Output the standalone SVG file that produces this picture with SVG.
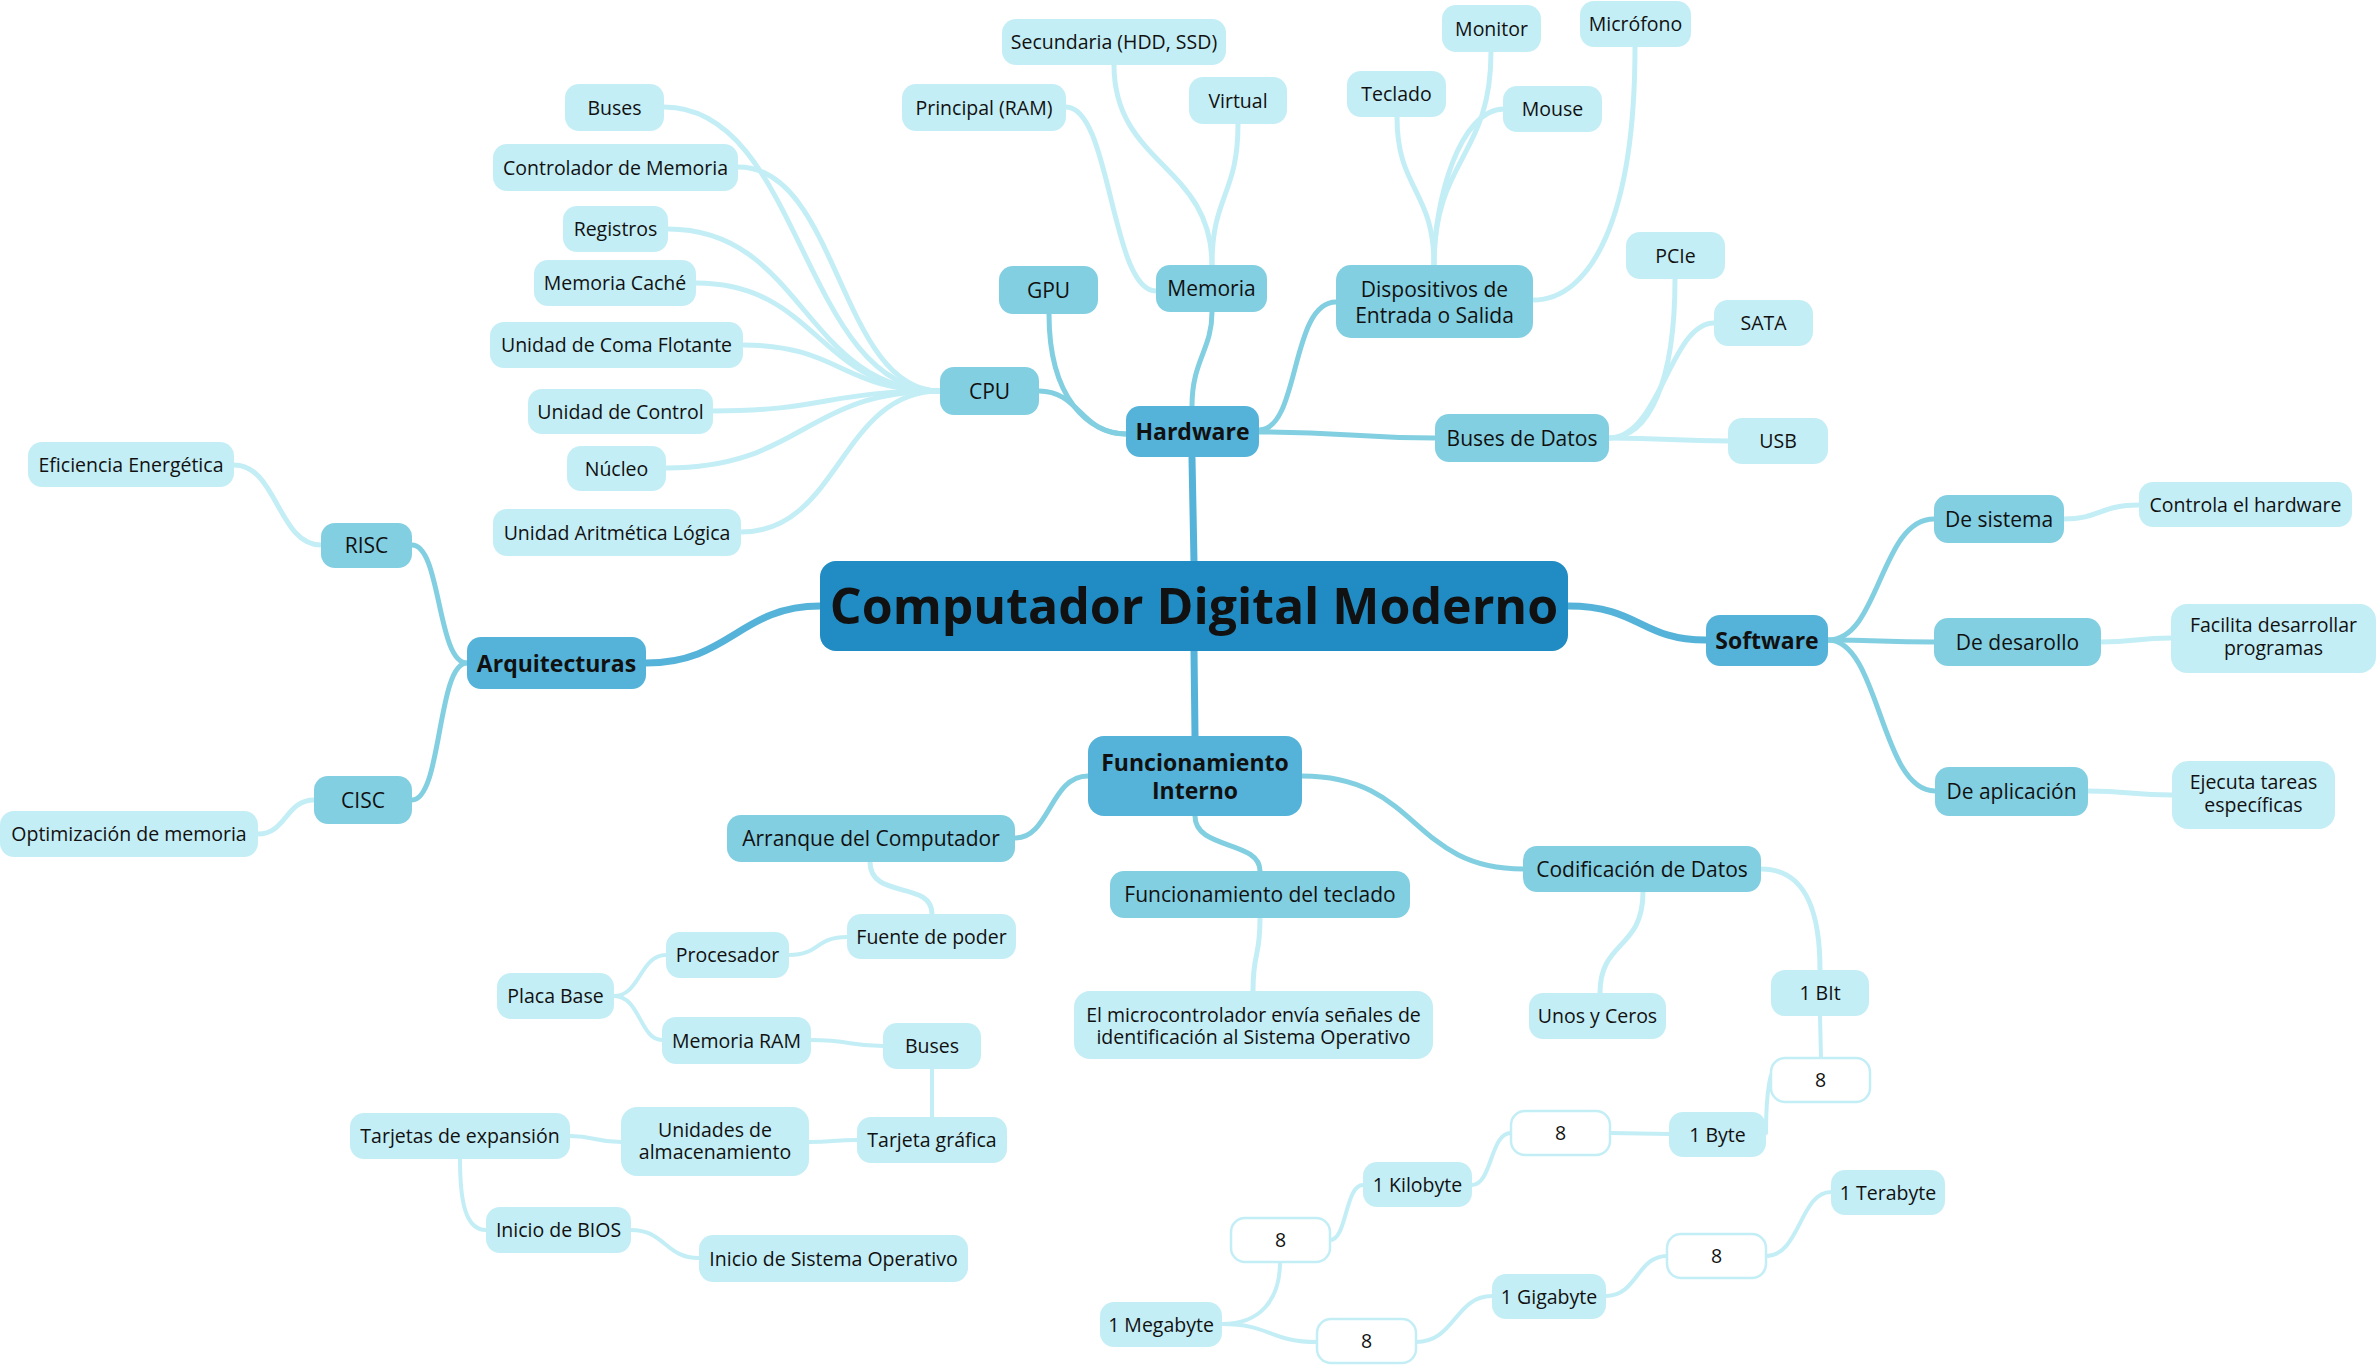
<svg xmlns="http://www.w3.org/2000/svg" width="2376" height="1365" viewBox="0 0 2376 1365">
<style>
.bg{fill:#ffffff}
text{font-family:"Open Sans","Noto Sans","Liberation Sans",sans-serif;fill:#111111;text-anchor:middle}
.r0{fill:#218bc3}
.r1{fill:#55b3d9}
.r2{fill:#82cfe1}
.r3{fill:#c4eef6}
.rw{fill:#ffffff;stroke:#c4eef6;stroke-width:2.5}
.t0{font-size:50px;font-weight:700}
.t1{font-size:23px;font-weight:700}
.t2{font-size:21px}
.t3{font-size:19.5px}
.c0{fill:none;stroke:#55b3d9;stroke-width:7;stroke-linecap:round}
.c1{fill:none;stroke:#82cfe1;stroke-width:5;stroke-linecap:round}
.c2{fill:none;stroke:#c4eef6;stroke-width:5;stroke-linecap:round}
.c3{fill:none;stroke:#c4eef6;stroke-width:4;stroke-linecap:round}
</style>
<rect class="bg" x="0" y="0" width="2376" height="1365"/>
<g id="connectors">
<path class="c0" d="M1194,562 L1192,458"/>
<path class="c0" d="M1194,651 L1195,736"/>
<path class="c0" d="M820,606 C740,606 730,663 646,663"/>
<path class="c0" d="M1568,606 C1640,606 1640,640 1706,640"/>
<path class="c1" d="M1126,434 C1080,434 1080,391 1039,391"/>
<path class="c1" d="M1049,314 C1049,400 1090,434 1126,434"/>
<path class="c1" d="M1192,406 C1192,360 1212,350 1212,312"/>
<path class="c1" d="M1259,430 C1300,430 1290,302 1336,302"/>
<path class="c1" d="M1259,432 C1350,432 1350,438 1435,438"/>
<path class="c2" d="M664,107 C802,107 802,391 940,391"/>
<path class="c2" d="M738,167 C839,167 839,391 940,391"/>
<path class="c2" d="M668,229 C804,229 804,391 940,391"/>
<path class="c2" d="M696,283 C818,283 818,391 940,391"/>
<path class="c2" d="M743,345 C841,345 841,391 940,391"/>
<path class="c2" d="M713,411 C826,411 826,391 940,391"/>
<path class="c2" d="M666,468 C803,468 803,391 940,391"/>
<path class="c2" d="M741,532 C840,532 840,391 940,391"/>
<path class="c2" d="M1114,65 C1114,165 1212,165 1212,265"/>
<path class="c2" d="M1238,124 C1238,195 1212,195 1212,265"/>
<path class="c2" d="M1066,107 C1111,107 1111,291 1156,291"/>
<path class="c2" d="M1397,117 C1397,190 1434,190 1434,265"/>
<path class="c2" d="M1491,52 C1491,158 1434,158 1434,265"/>
<path class="c2" d="M1504,109 C1460,109 1434,200 1434,265"/>
<path class="c2" d="M1635,47 C1635,220 1590,300 1533,300"/>
<path class="c2" d="M1675,279 C1675,380 1650,438 1609,438"/>
<path class="c2" d="M1714,323 C1670,323 1660,438 1609,438"/>
<path class="c2" d="M1728,441 C1670,441 1670,438 1609,438"/>
<path class="c1" d="M1828,640 C1880,640 1880,519 1934,519"/>
<path class="c1" d="M1828,640 C1880,640 1880,642 1934,642"/>
<path class="c1" d="M1828,640 C1880,640 1880,791 1935,791"/>
<path class="c2" d="M2064,519 C2100,519 2100,505 2139,505"/>
<path class="c2" d="M2101,642 C2136,642 2136,638 2171,638"/>
<path class="c2" d="M2088,791 C2130,791 2130,795 2172,795"/>
<path class="c1" d="M467,663 C437,663 441,545 412,545"/>
<path class="c1" d="M467,663 C437,663 442,800 412,800"/>
<path class="c2" d="M321,545 C278,545 277,465 234,465"/>
<path class="c2" d="M314,800 C286,800 286,834 258,834"/>
<path class="c1" d="M1088,776 C1050,776 1050,838 1015,838"/>
<path class="c1" d="M1195,816 C1195,850 1260,840 1260,871"/>
<path class="c1" d="M1302,776 C1420,776 1410,869 1523,869"/>
<path class="c2" d="M1260,918 C1260,960 1253,950 1253,991"/>
<path class="c2" d="M870,862 C870,900 932,880 932,914"/>
<path class="c3" d="M847,937 C815,937 820,955 789,955"/>
<path class="c3" d="M614,996 C640,996 640,955 666,955"/>
<path class="c3" d="M614,996 C640,996 640,1040 662,1040"/>
<path class="c3" d="M811,1040 C850,1040 850,1046 883,1046"/>
<path class="c3" d="M932,1069 L932,1117"/>
<path class="c3" d="M857,1140 C833,1140 833,1142 809,1142"/>
<path class="c3" d="M621,1142 C595,1142 595,1136 570,1136"/>
<path class="c3" d="M460,1159 C460,1200 465,1230 486,1230"/>
<path class="c3" d="M631,1230 C665,1230 665,1258 699,1258"/>
<path class="c2" d="M1643,892 C1643,950 1600,940 1600,993"/>
<path class="c2" d="M1761,869 C1810,869 1820,920 1820,970"/>
<path class="c3" d="M1820,1016 L1821,1058"/>
<path class="c3" d="M1771,1075 C1767,1090 1766,1110 1766,1133"/>
<path class="c3" d="M1669,1134 C1640,1134 1640,1133 1610,1133"/>
<path class="c3" d="M1511,1133 C1490,1133 1492,1185 1472,1185"/>
<path class="c3" d="M1363,1185 C1345,1185 1347,1240 1330,1240"/>
<path class="c3" d="M1280,1262 C1280,1300 1260,1324 1222,1324"/>
<path class="c3" d="M1222,1324 C1270,1324 1270,1342 1317,1342"/>
<path class="c3" d="M1416,1342 C1455,1342 1455,1296 1492,1296"/>
<path class="c3" d="M1606,1296 C1637,1296 1637,1256 1667,1256"/>
<path class="c3" d="M1766,1256 C1800,1256 1800,1192 1831,1192"/>
</g>
<g id="n-root"><rect class="r0" x="820" y="561" width="748" height="90" rx="16"/><text class="t0" x="1194" y="624">Computador Digital Moderno</text></g>
<g id="n-hardware"><rect class="r1" x="1126" y="406" width="133" height="51" rx="14"/><text class="t1" x="1192.5" y="440">Hardware</text></g>
<g id="n-software"><rect class="r1" x="1706" y="615" width="122" height="51" rx="14"/><text class="t1" x="1767" y="649">Software</text></g>
<g id="n-arquitecturas"><rect class="r1" x="467" y="637" width="179" height="52" rx="14"/><text class="t1" x="556.5" y="671.5">Arquitecturas</text></g>
<g id="n-funcionamiento"><rect class="r1" x="1088" y="736" width="214" height="80" rx="16"/><text class="t1" x="1195" y="771">Funcionamiento<tspan x="1195" dy="28">Interno</tspan></text></g>
<g id="n-cpu"><rect class="r2" x="940" y="367" width="99" height="48" rx="14"/><text class="t2" x="989.5" y="398.5">CPU</text></g>
<g id="n-gpu"><rect class="r2" x="999" y="266" width="99" height="48" rx="14"/><text class="t2" x="1048.5" y="297.5">GPU</text></g>
<g id="n-memoria"><rect class="r2" x="1156" y="265" width="111" height="47" rx="14"/><text class="t2" x="1211.5" y="296">Memoria</text></g>
<g id="n-dispositivos"><rect class="r2" x="1336" y="265" width="197" height="73" rx="15"/><text class="t2" x="1434.5" y="297">Dispositivos de<tspan x="1434.5" dy="25.5">Entrada o Salida</tspan></text></g>
<g id="n-busesdatos"><rect class="r2" x="1435" y="414" width="174" height="48" rx="14"/><text class="t2" x="1522" y="445.5">Buses de Datos</text></g>
<g id="n-risc"><rect class="r2" x="321" y="523" width="91" height="45" rx="14"/><text class="t2" x="366.5" y="553">RISC</text></g>
<g id="n-cisc"><rect class="r2" x="314" y="776" width="98" height="48" rx="14"/><text class="t2" x="363" y="807.5">CISC</text></g>
<g id="n-desistema"><rect class="r2" x="1934" y="495" width="130" height="48" rx="14"/><text class="t2" x="1999" y="526.5">De sistema</text></g>
<g id="n-dedesarollo"><rect class="r2" x="1934" y="618" width="167" height="48" rx="14"/><text class="t2" x="2017.5" y="649.5">De desarollo</text></g>
<g id="n-deaplicacion"><rect class="r2" x="1935" y="767" width="153" height="49" rx="14"/><text class="t2" x="2011.5" y="799">De aplicación</text></g>
<g id="n-arranque"><rect class="r2" x="727" y="815" width="288" height="47" rx="14"/><text class="t2" x="871" y="846">Arranque del Computador</text></g>
<g id="n-teclado-func"><rect class="r2" x="1110" y="871" width="300" height="47" rx="14"/><text class="t2" x="1260" y="902">Funcionamiento del teclado</text></g>
<g id="n-codificacion"><rect class="r2" x="1523" y="846" width="238" height="46" rx="14"/><text class="t2" x="1642" y="876.5">Codificación de Datos</text></g>
<g id="n-buses"><rect class="r3" x="565" y="84" width="99" height="47" rx="14"/><text class="t3" x="614.5" y="114.5">Buses</text></g>
<g id="n-controlador"><rect class="r3" x="493" y="144" width="245" height="47" rx="14"/><text class="t3" x="615.5" y="174.5">Controlador de Memoria</text></g>
<g id="n-registros"><rect class="r3" x="563" y="206" width="105" height="46" rx="14"/><text class="t3" x="615.5" y="236">Registros</text></g>
<g id="n-cache"><rect class="r3" x="534" y="260" width="162" height="46" rx="14"/><text class="t3" x="615" y="290">Memoria Caché</text></g>
<g id="n-coma"><rect class="r3" x="490" y="322" width="253" height="46" rx="14"/><text class="t3" x="616.5" y="352">Unidad de Coma Flotante</text></g>
<g id="n-control"><rect class="r3" x="528" y="389" width="185" height="45" rx="14"/><text class="t3" x="620.5" y="418.5">Unidad de Control</text></g>
<g id="n-nucleo"><rect class="r3" x="567" y="446" width="99" height="45" rx="14"/><text class="t3" x="616.5" y="475.5">Núcleo</text></g>
<g id="n-alu"><rect class="r3" x="493" y="509" width="248" height="47" rx="14"/><text class="t3" x="617" y="539.5">Unidad Aritmética Lógica</text></g>
<g id="n-eficiencia"><rect class="r3" x="28" y="442" width="206" height="45" rx="14"/><text class="t3" x="131" y="471.5">Eficiencia Energética</text></g>
<g id="n-optimizacion"><rect class="r3" x="0" y="811" width="258" height="46" rx="14"/><text class="t3" x="129" y="841">Optimización de memoria</text></g>
<g id="n-secundaria"><rect class="r3" x="1002" y="19" width="224" height="46" rx="14"/><text class="t3" x="1114" y="49">Secundaria (HDD, SSD)</text></g>
<g id="n-principal"><rect class="r3" x="902" y="84" width="164" height="47" rx="14"/><text class="t3" x="984" y="114.5">Principal (RAM)</text></g>
<g id="n-virtual"><rect class="r3" x="1189" y="77" width="98" height="47" rx="14"/><text class="t3" x="1238" y="107.5">Virtual</text></g>
<g id="n-teclado"><rect class="r3" x="1347" y="71" width="99" height="46" rx="14"/><text class="t3" x="1396.5" y="101">Teclado</text></g>
<g id="n-monitor"><rect class="r3" x="1442" y="5" width="99" height="47" rx="14"/><text class="t3" x="1491.5" y="35.5">Monitor</text></g>
<g id="n-mouse"><rect class="r3" x="1503" y="86" width="99" height="46" rx="14"/><text class="t3" x="1552.5" y="116">Mouse</text></g>
<g id="n-microfono"><rect class="r3" x="1580" y="1" width="111" height="46" rx="14"/><text class="t3" x="1635.5" y="31">Micrófono</text></g>
<g id="n-pcie"><rect class="r3" x="1626" y="232" width="99" height="47" rx="14"/><text class="t3" x="1675.5" y="262.5">PCIe</text></g>
<g id="n-sata"><rect class="r3" x="1714" y="300" width="99" height="46" rx="14"/><text class="t3" x="1763.5" y="330">SATA</text></g>
<g id="n-usb"><rect class="r3" x="1728" y="418" width="100" height="46" rx="14"/><text class="t3" x="1778" y="448">USB</text></g>
<g id="n-controla"><rect class="r3" x="2139" y="482" width="213" height="45" rx="14"/><text class="t3" x="2245.5" y="511.5">Controla el hardware</text></g>
<g id="n-facilita"><rect class="r3" x="2171" y="604" width="205" height="69" rx="16"/><text class="t3" x="2273.5" y="632">Facilita desarrollar<tspan x="2273.5" dy="23">programas</tspan></text></g>
<g id="n-ejecuta"><rect class="r3" x="2172" y="761" width="163" height="68" rx="16"/><text class="t3" x="2253.5" y="788.5">Ejecuta tareas<tspan x="2253.5" dy="23">específicas</tspan></text></g>
<g id="n-fuente"><rect class="r3" x="847" y="914" width="169" height="45" rx="14"/><text class="t3" x="931.5" y="943.5">Fuente de poder</text></g>
<g id="n-procesador"><rect class="r3" x="666" y="932" width="123" height="46" rx="14"/><text class="t3" x="727.5" y="962">Procesador</text></g>
<g id="n-placa"><rect class="r3" x="497" y="973" width="117" height="46" rx="14"/><text class="t3" x="555.5" y="1003">Placa Base</text></g>
<g id="n-memram"><rect class="r3" x="662" y="1017" width="149" height="47" rx="14"/><text class="t3" x="736.5" y="1047.5">Memoria RAM</text></g>
<g id="n-buses2"><rect class="r3" x="883" y="1023" width="98" height="46" rx="14"/><text class="t3" x="932" y="1053">Buses</text></g>
<g id="n-tarjetagrafica"><rect class="r3" x="857" y="1117" width="150" height="46" rx="14"/><text class="t3" x="932" y="1147">Tarjeta gráfica</text></g>
<g id="n-unidades"><rect class="r3" x="621" y="1107" width="188" height="69" rx="16"/><text class="t3" x="715" y="1136.5">Unidades de<tspan x="715" dy="22.5">almacenamiento</tspan></text></g>
<g id="n-tarjetas"><rect class="r3" x="350" y="1113" width="220" height="46" rx="14"/><text class="t3" x="460" y="1143">Tarjetas de expansión</text></g>
<g id="n-bios"><rect class="r3" x="486" y="1207" width="145" height="46" rx="14"/><text class="t3" x="558.5" y="1237">Inicio de BIOS</text></g>
<g id="n-inicioso"><rect class="r3" x="699" y="1235" width="269" height="47" rx="14"/><text class="t3" x="833.5" y="1265.5">Inicio de Sistema Operativo</text></g>
<g id="n-microcontrolador"><rect class="r3" x="1074" y="991" width="359" height="68" rx="16"/><text class="t3" x="1253.5" y="1021.5">El microcontrolador envía señales de<tspan x="1253.5" dy="22.5">identificación al Sistema Operativo</tspan></text></g>
<g id="n-unos"><rect class="r3" x="1529" y="993" width="137" height="46" rx="14"/><text class="t3" x="1597.5" y="1023">Unos y Ceros</text></g>
<g id="n-bit"><rect class="r3" x="1771" y="970" width="98" height="46" rx="14"/><text class="t3" x="1820" y="1000">1 BIt</text></g>
<g id="n-8a"><rect class="rw" x="1771" y="1058" width="99" height="44" rx="14"/><text class="t3" x="1820.5" y="1087">8</text></g>
<g id="n-byte"><rect class="r3" x="1669" y="1112" width="97" height="45" rx="14"/><text class="t3" x="1717.5" y="1141.5">1 Byte</text></g>
<g id="n-8b"><rect class="rw" x="1511" y="1111" width="99" height="44" rx="14"/><text class="t3" x="1560.5" y="1140">8</text></g>
<g id="n-kilobyte"><rect class="r3" x="1363" y="1162" width="109" height="45" rx="14"/><text class="t3" x="1417.5" y="1191.5">1 Kilobyte</text></g>
<g id="n-8c"><rect class="rw" x="1231" y="1218" width="99" height="44" rx="14"/><text class="t3" x="1280.5" y="1247">8</text></g>
<g id="n-megabyte"><rect class="r3" x="1100" y="1302" width="122" height="45" rx="14"/><text class="t3" x="1161" y="1331.5">1 Megabyte</text></g>
<g id="n-8d"><rect class="rw" x="1317" y="1319" width="99" height="44" rx="14"/><text class="t3" x="1366.5" y="1348">8</text></g>
<g id="n-gigabyte"><rect class="r3" x="1492" y="1274" width="114" height="45" rx="14"/><text class="t3" x="1549" y="1303.5">1 Gigabyte</text></g>
<g id="n-8e"><rect class="rw" x="1667" y="1234" width="99" height="44" rx="14"/><text class="t3" x="1716.5" y="1263">8</text></g>
<g id="n-terabyte"><rect class="r3" x="1831" y="1170" width="114" height="45" rx="14"/><text class="t3" x="1888" y="1199.5">1 Terabyte</text></g>
</svg>
